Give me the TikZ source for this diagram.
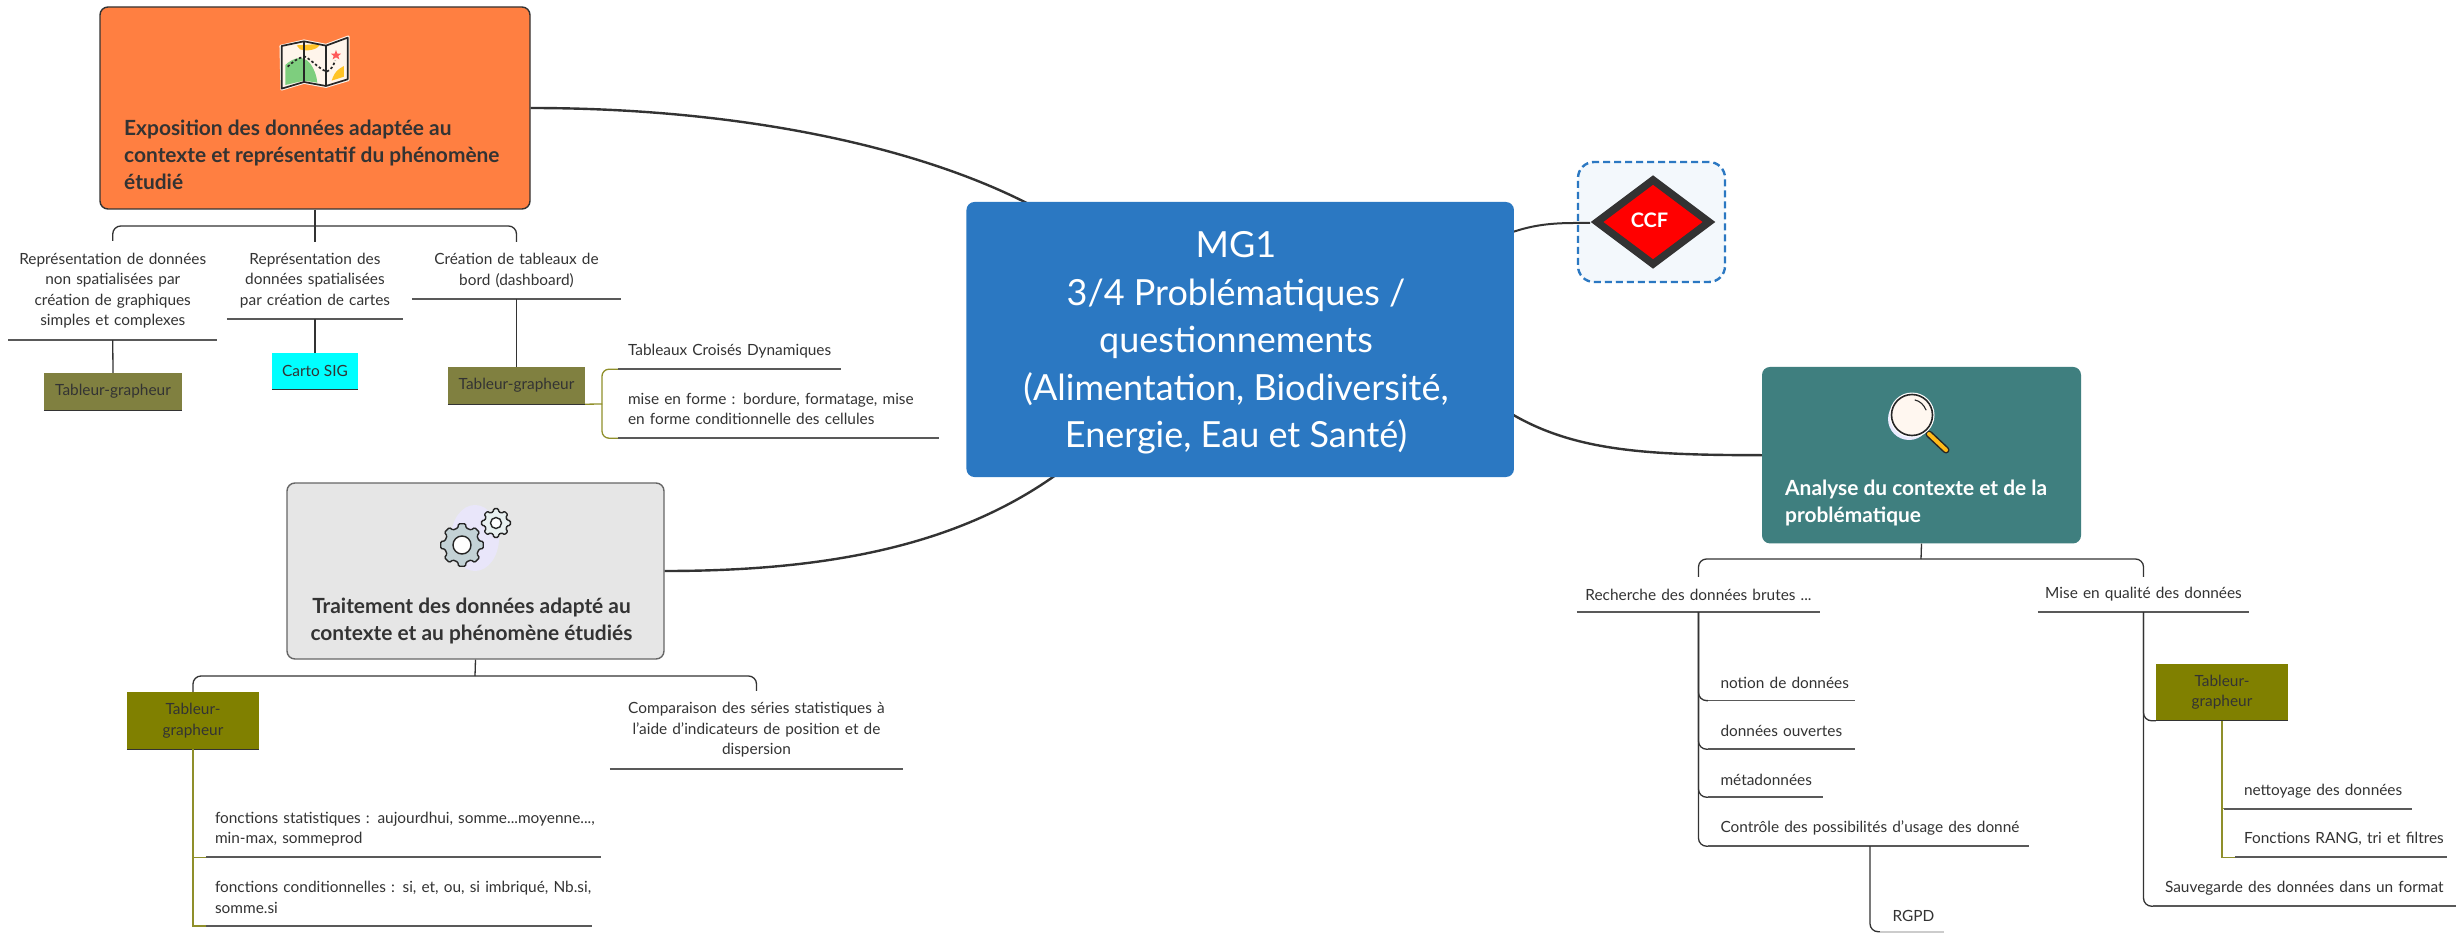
\documentclass[tikz,border=0pt]{standalone}
\usepackage{fontspec}
\setmainfont{Lato}
\definecolor{ink}{HTML}{333333}
\definecolor{cblue}{HTML}{2B78C2}
\definecolor{corange}{HTML}{FF7F41}
\definecolor{cteal}{HTML}{3F7F7F}
\definecolor{cgrey}{HTML}{E6E6E6}
\definecolor{olivea}{HTML}{808040}
\definecolor{oliveb}{HTML}{808000}
\definecolor{olivel}{HTML}{8F8F2A}
\definecolor{ccyan}{HTML}{00FFFF}
\definecolor{cframe}{HTML}{F3F8FC}
\definecolor{gearbig}{HTML}{C3D2D6}
\definecolor{gearsmall}{HTML}{E8F0F0}
\definecolor{gearbg}{HTML}{E9E6FA}
\tikzset{
  conn/.style={draw=ink,line width=1.3pt},
  trunk/.style={conn,rounded corners=8pt},
  oliveconn/.style={draw=olivel,line width=1.3pt},
  main/.style={draw=ink,line width=2.4pt},
  uline/.style={draw=black!65,line width=1.6pt},
  lbl/.style={inner sep=0pt,text=ink,font=\fontsize{15.4}{20.5}\selectfont},
  ttl/.style={inner sep=0pt,font=\bfseries\fontsize{20.9}{27}\selectfont},
  tbox/.style={rectangle,rounded corners=8pt,inner sep=0pt},
  tag/.style={rectangle,inner sep=0pt,text=ink,align=center,font=\fontsize{15.4}{20.5}\selectfont},
  ico/.style={line width=1.4pt,draw=black!85},
}
\newcommand{\brk}[1]{\\\hspace*{#1pt}}
\newcommand{\ulc}[6]{% name,x0,x1,yline,ycentre,text
  \pgfmathsetmacro{\ulw}{#3-#2}\pgfmathsetmacro{\ulh}{2*(#4-#5)}\pgfmathsetmacro{\ulx}{(#3+#2)/2}
  \node[lbl,align=center,text width=\ulw pt,minimum height=\ulh pt] (#1) at (\ulx,#5) {#6};
  \draw[uline] (#1.south west) -- (#1.south east);}
\newcommand{\ull}[8][uline]{% style,name,x0,x1,yline,ycentre,pad,text
  \pgfmathsetmacro{\ulw}{#4-#3}\pgfmathsetmacro{\ulh}{2*(#5-#6)}\pgfmathsetmacro{\ulx}{(#4+#3)/2}
  \node[lbl,align=left,text width=\ulw pt,minimum height=\ulh pt] (#2) at (\ulx,#6) {\hspace*{#7pt}#8};
  \draw[#1] (#2.south west) -- (#2.south east);}
\begin{document}
\begin{tikzpicture}[x=1pt,y=-1pt]
\useasboundingbox (0,0) rectangle (2459,933);
\fill[white] (0,0) rectangle (2459,933);

% main boxes (first: their curves run to the central box)
\node[tbox,fill=corange,draw=ink,line width=1.4pt,minimum width=430pt,minimum height=202pt] (orange) at (315,108) {};
\node[tbox,fill=cgrey,draw=black!60,line width=1.4pt,minimum width=377pt,minimum height=176pt] (greyb) at (475.5,571) {};
\node[tbox,fill=cteal,minimum width=319pt,minimum height=176.5pt] (teal) at (1921.5,455.2) {};
\node[rectangle,rounded corners=16pt,draw=cblue,fill=cframe,dashed,line width=2.4pt,dash pattern=on 7pt off 4pt,minimum width=147pt,minimum height=120pt] (frame) at (1651.5,222) {};
\coordinate (dw) at (1590,223);
\coordinate (c1) at (1040,210);
\coordinate (c2) at (1060,472);
\coordinate (c3) at (1510,233);
\coordinate (c4) at (1510,413);

% main curves
\draw[main] (orange.east) .. controls (750,108) and (930,150) .. (c1);
\draw[main] (greyb.east) .. controls (830,571) and (960,545) .. (c2);
\draw[main] (c4) .. controls (1575,452) and (1650,455) .. (teal.west);
\draw[main,line width=2pt] (c3) .. controls (1540,222) and (1565,223) .. (dw);

\node[tbox,fill=cblue,minimum width=547.5pt,minimum height=275pt] (central) at (1240.2,339.5) {};
\node[inner sep=0pt,text=white,align=center,font=\fontsize{36}{47.5}\selectfont] (centralT) at (1236,343) {MG1\\3/4 Problématiques /\\questionnements\\(Alimentation, Biodiversité,\\Energie, Eau et Santé)};

% CCF diamond
\path[fill=red,draw=ink,line width=7.5pt,line join=miter] (1597,222) -- (1653,180) -- (1709,222) -- (1653,264) -- cycle;
\node[inner sep=0pt,text=white,font=\bfseries\fontsize{20}{24}\selectfont] (ccf) at (1649.5,220) {CCF};

% box titles
\node[ttl,anchor=west,align=left,text=ink] (orangeT) at (124,155) {Exposition des données adaptée au\\contexte et représentatif du phénomène\\étudié};
\node[ttl,align=center,text=ink] (greyT) at (471.5,621) {Traitement des données adapté au\\contexte et au phénomène étudiés};
\node[ttl,anchor=west,align=left,text=white] (tealT) at (1785,503) {Analyse du contexte et de la\\problématique};

% ---- orange tree
\ulc{na}{8.5}{217}{340}{290.5}{Représentation de données\\non spatialisées par\\création de graphiques\\simples et complexes}
\ulc{nb}{227}{403}{319}{280.5}{Représentation des\\données spatialisées\\par création de cartes}
\ulc{nc}{412}{621}{299}{270.5}{Création de tableaux de\\bord (dashboard)}
\coordinate (ob) at (315,226);
\draw[conn] (orange.south) -- (nb.north);
\draw[trunk] (na.north) -- (na.north |- ob) -- (nc.north |- ob) -- (nc.north);
\node[tag,fill=olivea,minimum width=138pt,minimum height=37pt] (ta) at (113,391.5) {Tableur-grapheur};
\node[tag,fill=ccyan,minimum width=86pt,minimum height=36pt] (tb) at (315,371) {Carto SIG};
\node[tag,fill=olivea,minimum width=137pt,minimum height=37pt] (tc) at (516.5,385.5) {Tableur-grapheur};
\draw[conn] (na.south) -- (ta.north);
\draw[conn] (nb.south) -- (tb.north);
\draw[conn] (nc.south) -- (tc.north);
\foreach \b in {ta,tb,tc} \draw[ink,line width=1.4pt] (\b.south west) -- (\b.south east);
\ull{cd}{618}{841}{369}{351}{10}{Tableaux Croisés Dynamiques}
\ull{ce}{618}{939}{438}{409}{10}{mise en forme : bordure, formatage, mise\brk{10}en forme conditionnelle des cellules}
\coordinate (tj) at (602,404);
\draw[oliveconn] (tc.south east) -- (tj);
\draw[oliveconn,rounded corners=7pt] (tj) |- (cd.south west);
\draw[oliveconn,rounded corners=7pt] (tj) |- (ce.south west);

% ---- grey tree
\node[tag,fill=oliveb,minimum width=132pt,minimum height=57pt] (td) at (193,720.5) {Tableur-\\grapheur};
\ulc{nd}{610}{903}{769}{730}{Comparaison des séries statistiques à\\l’aide d’indicateurs de position et de\\dispersion}
\coordinate (gb) at (475,676);
\draw[conn] (greyb.south) -- (gb);
\draw[trunk] (td.north) -- (td.north |- gb) -- (nd.north |- gb) -- (nd.north);
\draw[ink,line width=1.4pt] (td.south west) -- (td.south east);
\ull{fa}{206}{601}{857}{829}{9}{fonctions statistiques : aujourdhui, somme...moyenne...,\brk{9}min-max, sommeprod}
\ull{fb}{206}{592}{925.7}{897.5}{9}{fonctions conditionnelles : si, et, ou, si imbriqué, Nb.si,\brk{9}somme.si}
\draw[oliveconn] (td.south) |- (fa.south west);
\draw[oliveconn] (td.south) |- (fb.south west);

% ---- teal tree
\ulc{ra}{1577}{1820}{612}{594.5}{Recherche des données brutes ...}
\ulc{rb}{2038}{2249}{612}{594.5}{Mise en qualité des données}
\coordinate (tb2) at (1921,559);
\draw[conn] (teal.south) -- (tb2);
\draw[trunk] (ra.north) -- (ra.north |- tb2) -- (rb.north |- tb2) -- (rb.north);
\ull{ua}{1708}{1855}{700.4}{683}{12.5}{notion de données}
\ull{ub}{1708}{1855}{749}{731}{12.5}{données ouvertes}
\ull{uc}{1708}{1822.6}{797}{779.5}{12.5}{métadonnées}
\ull{ud}{1708}{2028.5}{846}{828}{12.5}{Contrôle des possibilités d’usage des donné}
\foreach \n in {ua,ub,uc,ud} \draw[trunk] (ra.south) |- (\n.south west);
\coordinate (rg) at (1870,846);
\ull[draw=black!20,line width=1.6pt]{ue}{1880}{1944}{931.5}{915.5}{12.5}{RGPD}
\draw[trunk] (rg) |- (ue.south west);
\node[tag,fill=oliveb,minimum width=132pt,minimum height=56.5pt] (te) at (2222,692.3) {Tableur-\\grapheur};
\draw[ink,line width=1.4pt] (te.south west) -- (te.south east);
\draw[trunk] (rb.south) |- (te.south west);
\ull{va}{2224}{2411.5}{808.6}{791}{20}{nettoyage des données}
\ull{vb}{2235}{2447}{857}{839}{9}{Fonctions RANG, tri et filtres}
\ull{vc}{2153}{2456}{906}{888}{12}{Sauvegarde des données dans un format}
\draw[oliveconn] (te.south) |- (va.south west);
\draw[oliveconn] (te.south) |- (vb.south west);
\draw[trunk] (rb.south) |- (vc.south west);

% ---- map icon
\begin{scope}[shift={(260,20)},x=0.3333pt,y=-0.3333pt]
  \path[fill=white!92!orange,draw=white!92!orange,line width=2.4pt,line join=round] (62,78) -- (132,62) -- (198,75) -- (265,50) -- (265,180) -- (198,200) -- (132,188) -- (65,208) -- cycle;
  \fill[green!45!gray!70!white] (76,135) .. controls (100,112) and (130,105) .. (150,130) .. controls (165,150) and (170,170) .. (172,188) -- (132,182) -- (76,195) -- cycle;
  \fill[orange!55!yellow!85!white] (110,76) -- (180,72) .. controls (175,90) and (140,95) .. (120,88) -- cycle;
  \fill[orange!55!yellow!85!white] (215,182) .. controls (225,150) and (240,145) .. (252,138) -- (252,170) -- cycle;
  \draw[black!85,line width=1.7pt,dash pattern=on 2.5pt off 2.2pt] (83,140) .. controls (100,125) and (115,112) .. (135,110) .. controls (155,120) and (175,145) .. (200,155) .. controls (215,150) and (220,135) .. (226,122);
  \fill[red!65!white] (228,90) -- (232,101) -- (243,101) -- (235,108) -- (238,118) -- (228,112) -- (218,118) -- (221,108) -- (213,101) -- (224,101) -- cycle;
  \draw[black!85,line width=1.7pt,line join=round] (65,78) -- (132,64) -- (198,77) -- (263,53) -- (263,178) -- (198,198) -- (132,186) -- (65,206) -- cycle;
  \draw[black!85,line width=1.7pt] (132,64) -- (132,186) (198,77) -- (198,198);
\end{scope}

% ---- gears icon
\fill[gearbg] (475,538) ellipse (24 and 33);
\begin{scope}[shift={(462,545)}]
  \draw[ico,fill=gearbig,rounded corners=1pt] (-14:17.5)
    \foreach \a in {0,45,...,315} { -- (\a-14:17.5) -- (\a-9:21.5) -- (\a+9:21.5) -- (\a+14:17.5) } -- cycle;
  \draw[ico,fill=white] (0,0) circle (9);
\end{scope}
\begin{scope}[shift={(496,523)}]
  \draw[ico,fill=gearsmall,rounded corners=1pt] (-14:11.5)
    \foreach \a in {0,45,...,315} { -- (\a-14:11.5) -- (\a-9:14.5) -- (\a+9:14.5) -- (\a+14:11.5) } -- cycle;
  \draw[ico,fill=white] (0,0) circle (5.5);
\end{scope}

% ---- magnifier icon
\fill[blue!8!white] (1909,419) circle (21);
\draw[black!85,line width=7pt,line cap=round] (1929,434) -- (1946,450);
\draw[orange!60!yellow!90!white,line width=4pt,line cap=round] (1929,434) -- (1946,450);
\fill[white] (1912,415) circle (22.5);
\draw[black!85,line width=1.6pt,fill=orange!6!white] (1912,415) circle (20.5);
\draw[black!85,line width=1.1pt,line cap=round] (1915,400) .. controls (1920,401) and (1924,405) .. (1926,410);
\end{tikzpicture}
\end{document}
